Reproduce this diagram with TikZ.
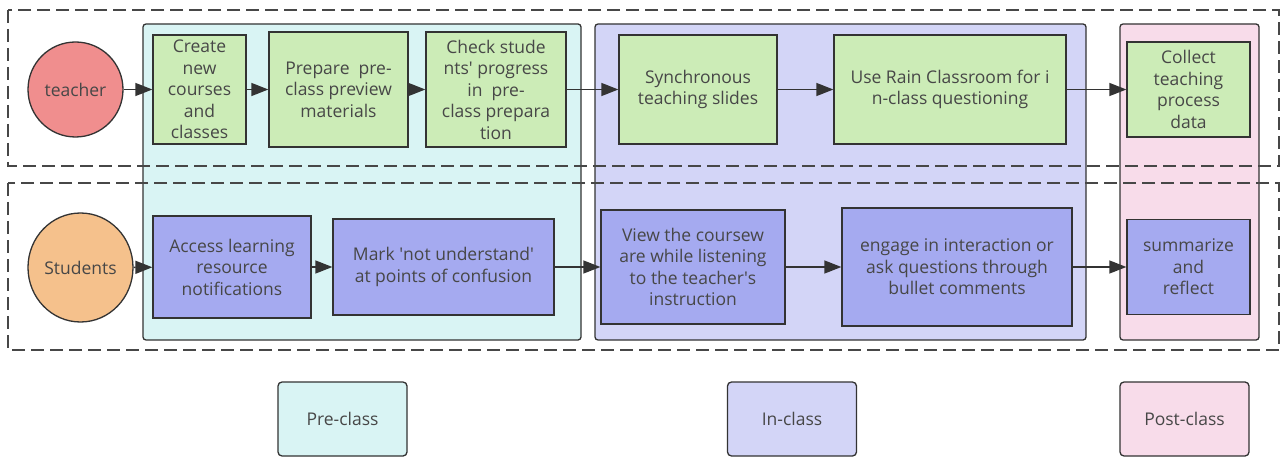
\documentclass[tikz,border=0pt]{standalone}
\usepackage{fontspec}
\setmainfont{Open Sans}
\usepackage{xcolor}
\usetikzlibrary{shapes.geometric, arrows.meta, positioning, calc}
\definecolor{ink}{RGB}{51,51,51}
\definecolor{teachred}{RGB}{240,142,142}
\definecolor{studorange}{RGB}{245,193,140}
\definecolor{taskgreen}{RGB}{204,236,183}
\definecolor{taskblue}{RGB}{165,170,240}
\definecolor{precyan}{RGB}{217,244,244}
\definecolor{inviolet}{RGB}{211,213,247}
\definecolor{postpink}{RGB}{248,220,234}
\newcommand{\sq}{\textquotesingle}
\tikzset{
  task/.style={rectangle, draw=ink, line width=1.3pt, inner sep=2pt,
               text centered, align=center, text=ink!90,
               font=\fontsize{17.5}{21.5}\selectfont},
  greentask/.style={task, fill=taskgreen},
  bluetask/.style={task, fill=taskblue},
  actor/.style={ellipse, draw=ink, line width=1.3pt, text=ink!90, inner sep=0pt,
                font=\fontsize{17.5}{21.5}\selectfont},
  phase/.style={draw=ink, line width=1.3pt, rounded corners=3pt},
  lane/.style={draw=ink!90, line width=1.6pt, dash pattern=on 13pt off 6pt},
  legend/.style={rectangle, draw=ink, line width=1.3pt, rounded corners=4pt,
                 minimum width=129pt, minimum height=74pt, text=ink!90,
                 font=\fontsize{17.5}{21.5}\selectfont},
  arrow/.style={-{Triangle[length=17pt,width=13pt]}, draw=ink, line width=1.4pt}
}
\begin{document}
\begin{tikzpicture}[x=1pt, y=-1pt]
    \useasboundingbox (0,0) rectangle (1282,457);

    \draw[phase, fill=precyan] (143,24) rectangle (581,340);
    \draw[phase, fill=inviolet] (595,24) rectangle (1086,340);
    \draw[phase, fill=postpink] (1120,24) rectangle (1259,340);

    \draw[lane] (8,10) rectangle (1279,166);
    \draw[lane] (8,183) rectangle (1279,350);

    \node[actor, fill=teachred, minimum width=95pt, minimum height=95pt] (teacher) at (75.5,89.5) {teacher};
    \node[greentask, minimum width=93pt, minimum height=109pt] (create) at (199.5,89.5) {Create\\new\\courses\\and\\classes};
    \node[greentask, minimum width=139pt, minimum height=115pt] (prepare) at (338.5,89.5) {Prepare~ pre-\\class preview\\materials};
    \node[greentask, minimum width=140pt, minimum height=115pt] (check) at (496,89.5) {Check stude\\nts\sq{} progress\\in~ pre-\\class prepara\\tion};
    \node[greentask, minimum width=158pt, minimum height=109pt] (sync) at (698,89.5) {Synchronous\\teaching slides};
    \node[greentask, minimum width=232pt, minimum height=109pt] (rain) at (950,89.5) {Use Rain Classroom for i\\n-class questioning};
    \node[greentask, minimum width=123pt, minimum height=95pt] (collect) at (1188.5,89.5) {Collect\\teaching\\process\\data};

    \node[actor, fill=studorange, minimum width=105pt, minimum height=109pt] (students) at (80.5,267.5) {Students};
    \node[bluetask, minimum width=158pt, minimum height=102pt] (access) at (232,267) {Access learning\\resource\\notifications};
    \node[bluetask, minimum width=221pt, minimum height=96pt] (mark) at (443.5,267) {Mark \sq not understand\sq\\at points of confusion};
    \node[bluetask, minimum width=184pt, minimum height=114pt] (view) at (693,267) {View the coursew\\are while listening\\to the teacher\sq s\\instruction};
    \node[bluetask, minimum width=230pt, minimum height=118pt] (engage) at (957,267) {engage in interaction or\\ask questions through\\bullet comments};
    \node[bluetask, minimum width=123pt, minimum height=95pt] (reflect) at (1188.5,267) {summarize\\and\\reflect};

    \draw[arrow] (teacher) -- (create);
    \draw[arrow] (create) -- (prepare);
    \draw[arrow] (prepare) -- (check);
    \draw[arrow] (check) -- (sync);
    \draw[arrow] (sync) -- (rain);
    \draw[arrow] (rain) -- (collect);

    \draw[arrow] (students) -- (access);
    \draw[arrow] (access) -- (mark);
    \draw[arrow] (mark) -- (view);
    \draw[arrow] (view) -- (engage);
    \draw[arrow] (engage) -- (reflect);

    \node[legend, fill=precyan] (preclass) at (342.5,419) {Pre-class};
    \node[legend, fill=inviolet] (inclass) at (792,419) {In-class};
    \node[legend, fill=postpink] (postclass) at (1184.5,419) {Post-class};
\end{tikzpicture}
\end{document}
